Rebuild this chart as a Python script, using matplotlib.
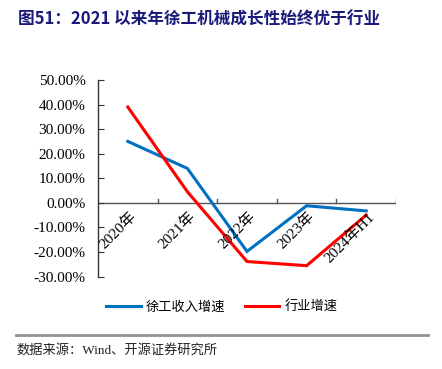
import matplotlib
matplotlib.use("Agg")
import matplotlib.pyplot as plt
from matplotlib.lines import Line2D

categories = ["2020年", "2021年", "2022年", "2023年", "2024年H1"]
xcmg_growth = [25.0, 14.0, -19.8, -1.2, -3.3]
industry_growth = [39.0, 4.5, -23.9, -25.6, -5.0]
yticks = [50, 40, 30, 20, 10, 0, -10, -20, -30]

serif = ["Liberation Serif", "Noto Sans CJK SC"]
cjk = ["Noto Sans CJK SC", "DejaVu Sans"]

fig = plt.figure(figsize=(4.42, 3.69), dpi=100)
ax = fig.add_axes([98/442, 1-276.5/369, (396-98)/442, (276.5-80)/369])

x = list(range(len(categories)))
ax.plot(x, xcmg_growth, color="#0070C0", lw=2.2, solid_joinstyle="miter")
ax.plot(x, industry_growth, color="#FF0000", lw=2.2, solid_joinstyle="miter")

ax.set_xlim(-0.5, 4.5)
ax.set_ylim(-30, 50)
ax.set_yticks(yticks)
ax.set_yticklabels([f"{v:.2f}%" for v in yticks], fontsize=11, family="Liberation Serif")
for s in ["top", "right", "bottom"]:
    ax.spines[s].set_visible(False)
ax.spines["left"].set_color("#333333")
ax.spines["left"].set_linewidth(1.0)
ax.axhline(0, color="#555555", lw=1.0, zorder=1)
ax.tick_params(axis="y", direction="in", length=4, color="#333333", pad=9)

# x tick marks at category boundaries on the zero line
for b in [0.5, 1.5, 2.5, 3.5, 4.5]:
    ax.plot([b, b], [0, 1.6], color="#555555", lw=1.0, zorder=1)
ax.set_xticks([])

for i, c in enumerate(categories):
    ax.text(i + 0.02, -2.8, c, rotation=45, ha="right", va="top",
            rotation_mode="anchor", fontsize=11, family=serif)

fig.text(18/442, 1-20/369, "图51：2021 以来年徐工机械成长性始终优于行业",
         fontsize=12, fontweight="bold", color="#1A1A7A", family=cjk,
         ha="left", va="center")

handles = [Line2D([0], [0], color="#0070C0", lw=2.2),
           Line2D([0], [0], color="#FF0000", lw=2.2)]
fig.legend(handles, ["徐工收入增速", "行业增速"], loc="center",
           bbox_to_anchor=(222/442, 1-307/369), ncol=2, frameon=False,
           prop={"family": cjk, "size": 9.5}, handlelength=2.6,
           handletextpad=0.4, columnspacing=1.5)

fig.add_artist(Line2D([16/442, 428/442], [1-335/369, 1-335/369],
                      color="#909090", lw=2.0, transform=fig.transFigure))
fig.text(16/442, 1-350/369, "数据来源：Wind、开源证券研究所", fontsize=9.5,
         family=["Liberation Serif", "Noto Sans CJK SC"], ha="left", va="center",
         color="#222222")

fig.savefig("out.png", dpi=100)
